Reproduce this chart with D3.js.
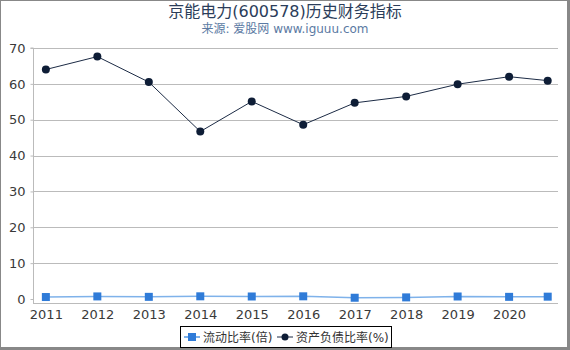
<!DOCTYPE html>
<html>
<head>
<meta charset="utf-8">
<script src="https://cdn.jsdelivr.net/npm/d3@7"></script>
<style>
  body { margin: 0; background: #fff; }
  svg { font-family: "DejaVu Sans", "Noto Sans CJK SC", sans-serif; }
</style>
</head>
<body>
<div id="chart"></div>
<script>
// data
var years = [2011, 2012, 2013, 2014, 2015, 2016, 2017, 2018, 2019, 2020, 2020.75];
var xTicks = [2011, 2012, 2013, 2014, 2015, 2016, 2017, 2018, 2019, 2020];
var currentRatio = [0.55, 0.72, 0.6, 0.75, 0.7, 0.75, 0.35, 0.45, 0.7, 0.6, 0.65];
var debtRatio = [64.0, 67.6, 60.5, 46.7, 55.1, 48.6, 54.7, 56.5, 59.9, 62.0, 60.9];
var yTicks = [0, 10, 20, 30, 40, 50, 60, 70];

var W = 570, H = 350;
var plotLeft = 33, plotRight = 558, plotTop = 48, zeroY = 299, axisY = 303;

var svg = d3.select('#chart').append('svg')
    .attr('width', W)
    .attr('height', H);

// frame
svg.append('rect').attr('x', 0.5).attr('y', 0.5).attr('width', 568).attr('height', 347.5)
    .attr('fill', 'none').attr('stroke', '#888').attr('stroke-width', 1);
svg.append('rect').attr('x', 567).attr('y', 0).attr('width', 3).attr('height', 350).attr('fill', '#888');
svg.append('rect').attr('x', 0).attr('y', 347).attr('width', 570).attr('height', 3).attr('fill', '#888');

var x = d3.scaleLinear().domain([2010.75, 2020.95]).range([plotLeft, plotRight]);
var y = d3.scaleLinear().domain([0, 70]).range([zeroY, plotTop]);

// title
svg.append('text').attr('x', 285).attr('y', 17).attr('text-anchor', 'middle')
    .attr('font-size', 16).attr('fill', '#2b3d5a').text('京能电力(600578)历史财务指标');
svg.append('text').attr('x', 285).attr('y', 33).attr('text-anchor', 'middle')
    .attr('font-size', 12).attr('fill', '#5b7aa3').text('来源: 爱股网 www.iguuu.com');

// grid
svg.append('g').selectAll('line').data(yTicks.filter(function(d) { return d > 0; }))
  .enter().append('line')
    .attr('x1', plotLeft).attr('x2', plotRight)
    .attr('y1', function(d) { return Math.round(y(d)) + 0.5; })
    .attr('y2', function(d) { return Math.round(y(d)) + 0.5; })
    .attr('stroke', '#bbb');

// y axis
var yAxis = d3.axisLeft(y).tickValues(yTicks).tickSize(3).tickPadding(5);
var yg = svg.append('g').attr('transform', 'translate(' + (plotLeft + 0.5) + ',0)').call(yAxis);
yg.select('.domain').attr('stroke', '#bbb').attr('d', 'M-3,' + plotTop + 'H0V' + axisY);
yg.selectAll('.tick line').attr('stroke', '#bbb');
yg.selectAll('.tick text').attr('font-size', 13).attr('fill', '#3a3a3a')
    .attr('font-family', '"DejaVu Sans", sans-serif');

// x axis
var xAxis = d3.axisBottom(x).tickValues(xTicks).tickFormat(d3.format('d')).tickSize(0).tickPadding(6);
var xg = svg.append('g').attr('transform', 'translate(0,' + (axisY + 0.5) + ')').call(xAxis);
xg.select('.domain').attr('stroke', '#bbb').attr('d', 'M' + plotLeft + ',0H' + plotRight);
xg.selectAll('.tick text').attr('font-size', 13).attr('fill', '#3a3a3a')
    .attr('font-family', '"DejaVu Sans", sans-serif');

// debt ratio line
var line1 = d3.line().x(function(d, i) { return x(years[i]); }).y(function(d) { return y(d); });
svg.append('path').datum(debtRatio).attr('d', line1)
    .attr('fill', 'none').attr('stroke', '#1c2b45').attr('stroke-width', 1);
svg.append('g').selectAll('circle').data(debtRatio).enter().append('circle')
    .attr('cx', function(d, i) { return x(years[i]); })
    .attr('cy', function(d) { return y(d); })
    .attr('r', 4).attr('fill', '#0e1d36');

// current ratio line
svg.append('path').datum(currentRatio).attr('d', line1)
    .attr('fill', 'none').attr('stroke', '#7fb2ea').attr('stroke-width', 1.5);
svg.append('g').selectAll('rect').data(currentRatio).enter().append('rect')
    .attr('x', function(d, i) { return x(years[i]) - 4; })
    .attr('y', function(d) { return y(d) - 4; })
    .attr('width', 8).attr('height', 8).attr('fill', '#2f7bd8');

// legend
var lg = svg.append('g').attr('transform', 'translate(180,326)');
lg.append('rect').attr('x', 0.5).attr('y', 0.5).attr('width', 211).attr('height', 21)
    .attr('fill', '#fff').attr('stroke', '#000');
lg.append('line').attr('x1', 4).attr('x2', 20).attr('y1', 11).attr('y2', 11)
    .attr('stroke', '#7fb2ea').attr('stroke-width', 2);
lg.append('rect').attr('x', 8).attr('y', 7).attr('width', 8).attr('height', 8).attr('fill', '#2f7bd8');
lg.append('text').attr('x', 23).attr('y', 16).attr('font-size', 12).attr('fill', '#333').text('流动比率(倍)');
lg.append('line').attr('x1', 97).attr('x2', 113).attr('y1', 11).attr('y2', 11)
    .attr('stroke', '#1c2b45').attr('stroke-width', 1);
lg.append('circle').attr('cx', 105).attr('cy', 11).attr('r', 3.5).attr('fill', '#0e1d36');
lg.append('text').attr('x', 116).attr('y', 16).attr('font-size', 12).attr('fill', '#333').text('资产负债比率(%)');
</script>
</body>
</html>
